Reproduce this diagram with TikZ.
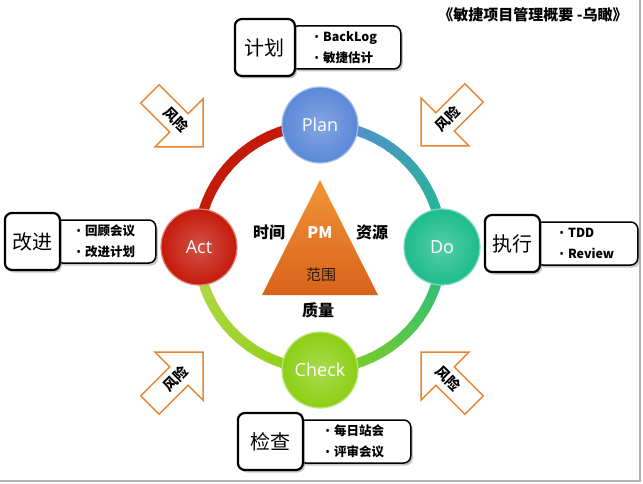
\documentclass[tikz,border=0pt]{standalone}
\usepackage{fontspec}
\setmainfont{Noto Sans CJK SC}
\newfontfamily\latinfont{Open Sans}
\usetikzlibrary{positioning,shadows}
\definecolor{planblue}{HTML}{5B88D8}
\definecolor{doteal}{HTML}{1DBC8C}
\definecolor{checkgreen}{HTML}{8CCF14}
\definecolor{actred}{HTML}{C41A0A}
\definecolor{ringyellow}{HTML}{B8D850}
\definecolor{riskorange}{HTML}{EA8431}
\definecolor{trilight}{HTML}{F29536}
\definecolor{tridark}{HTML}{D9621B}
\newcommand\bul{{\latinfont\mdseries •}\hspace{4pt}}
\tikzset{
    stage/.style={circle, minimum size=76pt, inner sep=0pt, text=white,
        font=\latinfont\fontsize{18}{18}\selectfont,
        draw=#1!55!white, line width=1.2pt,
        inner color=#1!75!white, outer color=#1},
    titlebox/.style={draw, rounded corners=7pt, line width=2.2pt, fill=white,
        minimum width=#1, minimum height=57pt, inner sep=0pt,
        font=\fontsize{20}{20}\selectfont,
        drop shadow={shadow xshift=2pt, shadow yshift=-2.5pt, opacity=.45}},
    titlebox/.default=58pt,
    listbox/.style={draw, rounded corners=7pt, line width=1.5pt, fill=white,
        minimum width=#1, minimum height=43pt, align=left,
        font=\bfseries\fontsize{12.5}{21}\selectfont,
        drop shadow={shadow xshift=2pt, shadow yshift=-2.5pt, opacity=.45}},
    risk/.style={draw=riskorange, line width=1.5pt, fill=white},
    risklabel/.style={font=\bfseries\fontsize{14}{14}\selectfont},
    corner/.style={font=\bfseries\fontsize{16}{16}\selectfont}
}
\begin{document}
\begin{tikzpicture}[x=1pt, y=-1pt]
\fill[white] (0,0) rectangle (643,484);
\useasboundingbox (0,0) rectangle (643,484);
\draw[gray!60, line width=2pt] (640,0) -- (640,481) -- (0,481);

\foreach \sa/\ca/\cb in {-90/planblue/doteal, 0/doteal/checkgreen, 90/checkgreen/ringyellow, 180/actred/actred}{
  \foreach \i in {0,...,17}{
    \pgfmathtruncatemacro\p{100-\i*100/17}
    \pgfmathsetmacro\ang{\sa+\i*5}
    \draw[line width=10pt, \ca!\p!\cb] ([shift={(\ang:122)}]320,247) arc[start angle=\ang, delta angle=5.5, radius=122];
  }
}

\foreach \x/\y/\r in {203/147/-45, 421/146/-135, 203/352/45, 421/352/135}
  \draw[risk, shift={(\x,\y)}, rotate=\r] (0,0) -- (-34,34) -- (-34,13) -- (-75,13) -- (-75,-13) -- (-34,-13) -- (-34,-34) -- cycle;
\node[risklabel, rotate=-45] (R1) at (176,120) {风险};
\node[risklabel, rotate=45] (R2) at (448,119) {风险};
\node[risklabel, rotate=45] (R3) at (176,379) {风险};
\node[risklabel, rotate=-45] (R4) at (448,379) {风险};

\shade[top color=trilight, bottom color=tridark] (320,180) -- (378,295) -- (262,295) -- cycle;
\node[corner] (time) at (269,232) {时间};
\node[corner] (res) at (372,232) {资源};
\node[corner, text=white] (pm) at (320,233) {PM};
\node[font=\fontsize{15}{15}\selectfont, text=black!80!brown] (scope) at (321,275) {范围};
\node[corner] (qual) at (318,310) {质量};

\node[stage=planblue] (Plan) at (320,125) {Plan};
\node[stage=doteal] (Do) at (442,247) {Do};
\node[stage=checkgreen] (Check) at (320,370) {Check};
\node[stage=actred] (Act) at (199,247) {Act};

\node[listbox=110pt, anchor=west] (L1) at (290,47.5) {\bul BackLog\\\bul 敏捷估计};
\node[titlebox=60pt, left=-6pt of L1] (B1) {计划};
\node[listbox=100pt, anchor=west] (L2) at (55,241.5) {\bul 回顾会议\\\bul 改进计划};
\node[titlebox=55pt, left=-6pt of L2] (B2) {改进};
\node[listbox=102pt, anchor=west] (L3) at (535,243.5) {\bul TDD\\\bul Review};
\node[titlebox=55pt, left=-6pt of L3] (B3) {执行};
\node[listbox=112pt, anchor=west] (L4) at (298,441.5) {\bul 每日站会\\\bul 评审会议};
\node[titlebox=65pt, left=-6pt of L4] (B4) {检查};

\node[font=\bfseries\fontsize{15}{15}\selectfont] (title) at (533,15) {《敏捷项目管理概要 -乌瞰》};
\end{tikzpicture}
\end{document}
